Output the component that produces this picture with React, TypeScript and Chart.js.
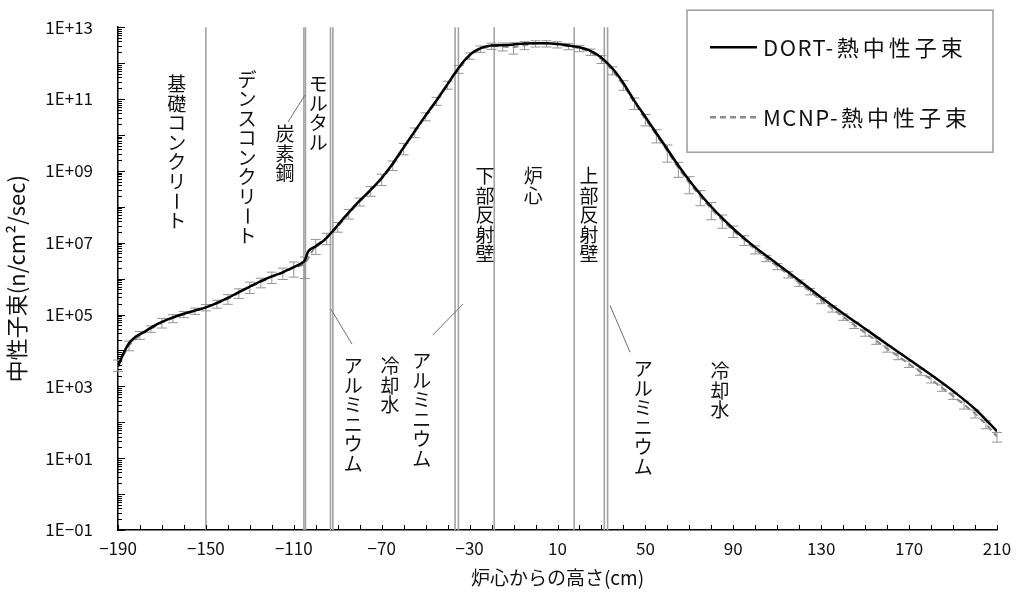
import React, { useEffect, useRef } from "react";
import { Chart, registerables } from "chart.js";

Chart.register(...registerables);

const FONT = '"Noto Sans CJK JP", "Noto Sans", sans-serif';

// DORT thermal neutron flux (height cm -> n/cm2/sec)
const dortX = [-190, -188, -185, -182, -178, -174, -170, -165, -160, -155, -150, -145, -140, -135, -130, -125, -120, -115, -110, -106, -105, -103.5, -100, -96, -92, -88, -84, -80, -75, -70, -65, -60, -55, -50, -45, -40, -36, -32, -28, -24, -20, -15, -10, -5, 0, 5, 10, 15, 20, 24, 28, 32, 36, 40, 45, 50, 55, 60, 65, 70, 75, 80, 85, 90, 95, 100, 110, 120, 130, 140, 150, 160, 170, 180, 190, 200, 210];
const dortY = [3.55e3, 7.1e3, 1.58e4, 2.4e4, 3.3e4, 4.7e4, 6.2e4, 8.3e4, 1.05e5, 1.29e5, 1.58e5, 2.1e5, 2.9e5, 4.2e5, 6.0e5, 8.5e5, 1.15e6, 1.5e6, 2.1e6, 2.8e6, 3.2e6, 5.6e6, 7.9e6, 1.2e7, 2.2e7, 4.3e7, 8.1e7, 1.48e8, 2.95e8, 6.3e8, 1.58e9, 4.5e9, 1.26e10, 3.5e10, 9.3e10, 2.6e11, 6.0e11, 1.26e12, 2.1e12, 2.75e12, 3.1e12, 3.16e12, 3.3e12, 3.5e12, 3.55e12, 3.55e12, 3.4e12, 3.1e12, 2.75e12, 2.35e12, 1.74e12, 1.1e12, 6.0e11, 2.75e11, 8.9e10, 3.16e10, 1.12e10, 4.0e9, 1.41e9, 5.4e8, 2.24e8, 1.0e8, 4.8e7, 2.45e7, 1.32e7, 7.4e6, 2.57e6, 8.9e5, 3.0e5, 1.07e5, 4.0e4, 1.48e4, 5.6e3, 2.1e3, 7.4e2, 2.34e2, 56];

// MCNP thermal neutron flux with relative errors
const mcnpX = [-190, -185, -180, -175, -170, -165, -160, -155, -150, -145, -140, -135, -130, -125, -120, -115, -110, -105, -100, -95, -90, -85, -80, -75, -70, -65, -60, -55, -50, -45, -40, -35, -30, -25, -20, -15, -10, -5, 0, 5, 10, 15, 20, 25, 30, 35, 40, 45, 50, 55, 60, 65, 70, 75, 80, 85, 90, 95, 100, 105, 110, 115, 120, 125, 130, 135, 140, 145, 150, 155, 160, 165, 170, 175, 180, 185, 190, 195, 200, 205, 210];
const mcnpY = [4.0e3, 1.4e4, 2.7e4, 4.0e4, 6.0e4, 7.9e4, 1.02e5, 1.26e5, 1.58e5, 2.0e5, 2.75e5, 4.0e5, 5.9e5, 7.9e5, 1.12e6, 1.45e6, 2.0e6, 2.5e6, 8.5e6, 1.35e7, 2.8e7, 6.5e7, 1.4e8, 2.8e8, 6.0e8, 1.45e9, 4.3e9, 1.2e10, 3.3e10, 8.9e10, 2.5e11, 6.9e11, 1.6e12, 2.5e12, 3.0e12, 2.9e12, 2.75e12, 3.16e12, 3.5e12, 3.5e12, 3.3e12, 2.95e12, 2.6e12, 2.05e12, 1.3e12, 6.3e11, 2.5e11, 7.9e10, 2.75e10, 1.0e10, 3.5e9, 1.2e9, 4.6e8, 1.95e8, 8.7e7, 4.2e7, 2.14e7, 1.2e7, 6.5e6, 3.7e6, 2.2e6, 1.3e6, 7.6e5, 4.4e5, 2.5e5, 1.46e5, 8.6e4, 5.1e4, 3.1e4, 1.85e4, 1.12e4, 6.9e3, 4.2e3, 2.55e3, 1.55e3, 9.1e2, 5.4e2, 3.1e2, 1.75e2, 88, 40];
const mcnpErr = [0.35, 0.3, 0.25, 0.2, 0.3, 0.25, 0.2, 0.2, 0.2, 0.25, 0.3, 0.3, 0.35, 0.3, 0.35, 0.35, 0.45, 0.6, 0.45, 0.35, 0.3, 0.3, 0.25, 0.3, 0.35, 0.3, 0.35, 0.3, 0.25, 0.25, 0.25, 0.25, 0.2, 0.2, 0.2, 0.25, 0.35, 0.25, 0.2, 0.2, 0.2, 0.2, 0.2, 0.2, 0.25, 0.25, 0.3, 0.35, 0.35, 0.4, 0.5, 0.45, 0.5, 0.45, 0.5, 0.4, 0.35, 0.3, 0.25, 0.2, 0.2, 0.2, 0.2, 0.2, 0.2, 0.2, 0.2, 0.2, 0.2, 0.2, 0.2, 0.2, 0.2, 0.2, 0.2, 0.2, 0.2, 0.25, 0.25, 0.25, 0.3];

const seriesLabels = ["DORT-熱中性子束", "MCNP-熱中性子束"];

// axes
const xMin = -190;
const xMax = 210;
const xTickValues = [-190, -150, -110, -70, -30, 10, 50, 90, 130, 170, 210];
const xMinorStep = 10;
const yMin = 1e-1;
const yMax = 1e13;
const yTickValues = [1e-1, 1e1, 1e3, 1e5, 1e7, 1e9, 1e11, 1e13];
const xTitle = "炉心からの高さ(cm)";
const yTitle = "中性子束(n/cm²/sec)";

// region boundaries (cm)
const boundaries = [-150, -105.4, -104.7, -93.3, -92.2, -36.6, -35.1, -18.8, 17.6, 31.3, 32.8];

// region labels (vertical text): text, x (cm), y (flux at first character)
const regionText = ["基礎コンクリート", "デンスコンクリート", "モルタル", "炭素鋼", "アルミニウム", "冷却水", "アルミニウム", "下部反射壁", "炉心", "上部反射壁", "アルミニウム", "冷却水"];
const regionX = [-163.3, -131.3, -98.85, -114.0, -82.9, -66.2, -51.8, -23.0, -1.0, 24.3, 49.0, 83.9];
const regionY = [2.6e11, 3.5e11, 2.6e11, 1.05e10, 3.7e3, 3.7e3, 5.0e3, 7.1e8, 7.1e8, 7.1e8, 3.0e3, 2.7e3];

// leader lines: from (x1,y1) to (x2,y2)
const leaderX1 = [-112.6, -93.1, -46.7, 33.9];
const leaderY1 = [2.3e10, 1.4e5, 2.7e4, 1.8e5];
const leaderX2 = [-104.9, -83.5, -33.0, 43.0];
const leaderY2 = [1.3e11, 1.5e4, 1.95e5, 8.9e3];

const fmtX = (v: number) => (v < 0 ? "−" + Math.abs(v) : String(v));
const fmtY = (v: number) => {
  const e = Math.round(Math.log10(v));
  return "1E" + (e < 0 ? "−" : "+") + String(Math.abs(e)).padStart(2, "0");
};

const overlayPlugin = {
  id: "overlay",
  beforeDatasetsDraw(chart: any) {
    const { ctx, chartArea, scales } = chart;
    const x = scales.x;
    const y = scales.y;
    ctx.save();
    ctx.strokeStyle = "#a3a3a3";
    ctx.lineWidth = 1.6;
    boundaries.forEach((b) => {
      const px = x.getPixelForValue(b);
      ctx.beginPath();
      ctx.moveTo(px, chartArea.top);
      ctx.lineTo(px, chartArea.bottom);
      ctx.stroke();
    });
    ctx.strokeStyle = "#959595";
    ctx.lineWidth = 1;
    mcnpX.forEach((xv, i) => {
      const v = mcnpY[i];
      const e = mcnpErr[i];
      const px = x.getPixelForValue(xv);
      const y1 = y.getPixelForValue(v * (1 + e));
      const y2 = y.getPixelForValue(v * (1 - e));
      ctx.beginPath();
      ctx.moveTo(px, y1);
      ctx.lineTo(px, y2);
      ctx.moveTo(px - 5, y1);
      ctx.lineTo(px + 5, y1);
      ctx.moveTo(px - 5, y2);
      ctx.lineTo(px + 5, y2);
      ctx.stroke();
    });
    ctx.restore();
  },
  afterDraw(chart: any) {
    const { ctx, chartArea, scales } = chart;
    const x = scales.x;
    const y = scales.y;
    ctx.save();
    // tick marks (inside)
    ctx.strokeStyle = "#000";
    ctx.lineWidth = 1;
    for (let v = xMin; v <= xMax + 0.001; v += xMinorStep) {
      const px = Math.round(x.getPixelForValue(v)) + 0.5;
      ctx.beginPath();
      ctx.moveTo(px, chartArea.bottom);
      ctx.lineTo(px, chartArea.bottom - 5);
      ctx.stroke();
    }
    const eMin = Math.round(Math.log10(yMin));
    const eMax = Math.round(Math.log10(yMax));
    for (let e = eMin; e <= eMax; e++) {
      for (let m = 1; m <= 9; m++) {
        if (e === eMax && m > 1) break;
        const py = Math.round(y.getPixelForValue(m * Math.pow(10, e))) + 0.5;
        const len = m === 1 ? 7 : 4;
        ctx.beginPath();
        ctx.moveTo(chartArea.left, py);
        ctx.lineTo(chartArea.left + len, py);
        ctx.stroke();
      }
    }
    // leader lines
    ctx.strokeStyle = "#6f6f6f";
    ctx.lineWidth = 1;
    leaderX1.forEach((_, i) => {
      ctx.beginPath();
      ctx.moveTo(x.getPixelForValue(leaderX1[i]), y.getPixelForValue(leaderY1[i]));
      ctx.lineTo(x.getPixelForValue(leaderX2[i]), y.getPixelForValue(leaderY2[i]));
      ctx.stroke();
    });
    // region labels (vertical)
    ctx.fillStyle = "#111";
    ctx.font = `19px ${FONT}`;
    ctx.textAlign = "center";
    ctx.textBaseline = "middle";
    const step = 19.5;
    regionText.forEach((t, i) => {
      const cx = x.getPixelForValue(regionX[i]);
      const cy = y.getPixelForValue(regionY[i]);
      Array.from(t).forEach((ch, k) => {
        const yy = cy + k * step;
        if (ch === "ー") {
          ctx.save();
          ctx.translate(cx, yy);
          ctx.rotate(Math.PI / 2);
          ctx.fillText(ch, 0, 0);
          ctx.restore();
        } else {
          ctx.fillText(ch, cx, yy);
        }
      });
    });
    // legend box
    const lx = chartArea.right - 310;
    const ly = chartArea.top - 17;
    const lw = 306;
    const lh = 142;
    ctx.fillStyle = "#fff";
    ctx.fillRect(lx, ly, lw, lh);
    ctx.strokeStyle = "#9a9a9a";
    ctx.lineWidth = 1.5;
    ctx.strokeRect(lx, ly, lw, lh);
    const rows = [ly + 37, ly + 107];
    ctx.strokeStyle = "#000";
    ctx.lineWidth = 2.5;
    ctx.beginPath();
    ctx.moveTo(lx + 23, rows[0]);
    ctx.lineTo(lx + 70, rows[0]);
    ctx.stroke();
    ctx.strokeStyle = "#8a8a8a";
    ctx.lineWidth = 2.5;
    ctx.setLineDash([6, 4]);
    ctx.beginPath();
    ctx.moveTo(lx + 23, rows[1]);
    ctx.lineTo(lx + 70, rows[1]);
    ctx.stroke();
    ctx.setLineDash([]);
    ctx.fillStyle = "#111";
    ctx.font = `22px ${FONT}`;
    ctx.textAlign = "left";
    ctx.textBaseline = "middle";
    seriesLabels.forEach((label, i) => {
      const cut = label.indexOf("-") + 1;
      const head = label.slice(0, cut);
      const tail = label.slice(cut);
      (ctx as any).letterSpacing = "1.5px";
      ctx.fillText(head, lx + 76, rows[i]);
      const w = ctx.measureText(head).width;
      (ctx as any).letterSpacing = "4px";
      ctx.fillText(tail, lx + 76 + w + 2, rows[i]);
    });
    (ctx as any).letterSpacing = "0px";
    ctx.restore();
  },
};

export default function App() {
  const ref = useRef<HTMLCanvasElement | null>(null);
  useEffect(() => {
    if (!ref.current) return;
    const chart = new Chart(ref.current, {
      type: "line",
      data: {
        datasets: [
          {
            label: seriesLabels[0],
            data: dortX.map((v, i) => ({ x: v, y: dortY[i] })),
            borderColor: "#000",
            borderWidth: 2.5,
            pointRadius: 0,
            cubicInterpolationMode: "monotone",
            fill: false,
          },
          {
            label: seriesLabels[1],
            data: mcnpX.map((v, i) => ({ x: v, y: mcnpY[i] })),
            borderColor: "#8a8a8a",
            borderWidth: 2,
            borderDash: [6, 4],
            pointRadius: 0,
            tension: 0,
            fill: false,
          },
        ],
      },
      options: {
        responsive: false,
        animation: false,
        devicePixelRatio: 1,
        layout: { padding: { top: 27, right: 19, left: 0, bottom: 0 } },
        plugins: { legend: { display: false }, tooltip: { enabled: false } },
        scales: {
          x: {
            type: "linear",
            min: xMin,
            max: xMax,
            afterBuildTicks: (s: any) => {
              s.ticks = xTickValues.map((v) => ({ value: v }));
            },
            afterFit: (s: any) => {
              s.height = 65;
            },
            grid: { display: false },
            border: { display: true, color: "#000", width: 1.5 },
            ticks: {
              padding: 0,
              color: "#111",
              maxRotation: 0,
              autoSkip: false,
              font: { family: FONT, size: 17 },
              callback: (v: any) => fmtX(Number(v)),
            },
            title: {
              display: true,
              text: xTitle,
              color: "#111",
              font: { family: FONT, size: 19 },
              padding: { top: 0, bottom: 6 },
            },
          },
          y: {
            type: "logarithmic",
            min: yMin,
            max: yMax,
            afterBuildTicks: (s: any) => {
              s.ticks = yTickValues.map((v) => ({ value: v }));
            },
            afterFit: (s: any) => {
              s.width = 118;
            },
            grid: { display: false },
            border: { display: true, color: "#000", width: 1.5 },
            ticks: {
              padding: 17,
              color: "#111",
              autoSkip: false,
              font: { family: FONT, size: 17 },
              callback: (v: any) => fmtY(Number(v)),
            },
            title: {
              display: true,
              text: yTitle,
              color: "#111",
              font: { family: FONT, size: 22 },
              padding: { top: 3, bottom: 0 },
            },
          },
        },
      } as any,
      plugins: [overlayPlugin],
    });
    return () => chart.destroy();
  }, []);
  return (
    <div style={{ position: "absolute", left: 0, top: 0, width: 1016, height: 595, background: "#fff" }}>
      <canvas ref={ref} width={1016} height={595} style={{ display: "block" }} />
    </div>
  );
}
